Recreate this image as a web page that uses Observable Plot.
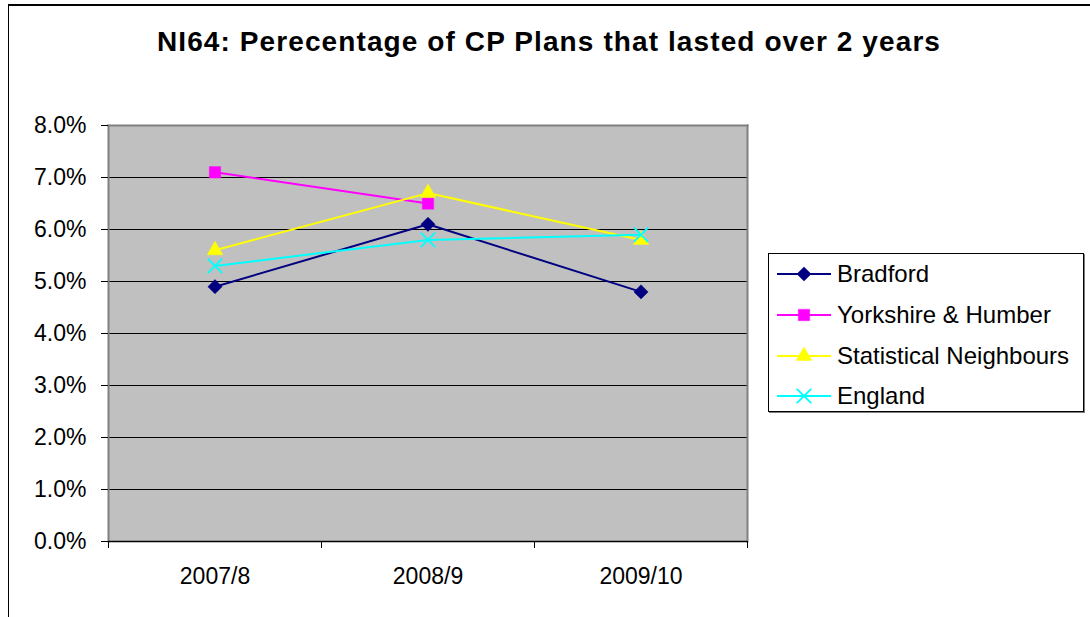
<!DOCTYPE html>
<html>
<head>
<meta charset="utf-8">
<script src="https://cdn.jsdelivr.net/npm/d3@7"></script>
<script src="https://cdn.jsdelivr.net/npm/@observablehq/plot@0.6"></script>
<style>
  html, body { margin: 0; padding: 0; background: #fff; overflow: hidden; }
  #wrap { position: relative; width: 1090px; height: 617px; font-family: Arial, "Liberation Sans", sans-serif; }
  #border { position: absolute; left: 8px; top: 4px; width: 1200px; height: 800px; border-top: 2px solid #000; border-left: 1.5px solid #000; }
  #chart { position: absolute; left: 0; top: 0; }
  #title { position: absolute; left: 8px; width: 1082px; top: 28px; line-height: 28px; text-align: center; font-size: 28px; letter-spacing: 1.1px; font-weight: bold; color: #000; }
  #legend { position: absolute; left: 768px; top: 253px; width: 316px; height: 159px; border: 1px solid #000; box-shadow: 1px 1px 0 #808080; background: #fff; box-sizing: border-box; }
  .item { position: absolute; left: 8px; height: 30px; display: flex; align-items: center; font-size: 24px; color: #000; white-space: nowrap; }
  .item svg { margin-right: 6px; }
</style>
</head>
<body>
<div id="wrap">
  <div id="border"></div>
  <div id="chart"></div>
  <div id="title">NI64: Perecentage of CP Plans that lasted over 2 years</div>
  <div id="legend"></div>
</div>
<script>
const categories = ["2007/8", "2008/9", "2009/10"];
const seriesNames = ["Bradford", "Yorkshire & Humber", "Statistical Neighbours", "England"];
const bradford = [4.9, 6.1, 4.8];
const yorkshire = [7.1, 6.5, null];
const statNeighbours = [5.6, 6.7, 5.8];
const england = [5.3, 5.8, 5.9];
const yTicks = [0, 1, 2, 3, 4, 5, 6, 7, 8];

const seriesValues = [bradford, yorkshire, statNeighbours, england];
const styles = {
  "Bradford": {color: "#000080", symbol: "diamond2", r: 6.4, fill: true},
  "Yorkshire & Humber": {color: "#FF00FF", symbol: "square", r: 6.4, fill: true},
  "Statistical Neighbours": {color: "#FFFF00", symbol: "triangle", r: 5.8, fill: true},
  "England": {color: "#00FFFF", symbol: "times", r: 6.6, fill: false}
};

const rows = [];
seriesNames.forEach((name, s) => {
  seriesValues[s].forEach((v, i) => {
    if (v != null) rows.push({series: name, i, value: v});
  });
});
const bounds = d3.range(categories.length + 1).map(k => k - 0.5);

const marks = [
  Plot.frame({fill: "#C0C0C0", stroke: "none"}),
  Plot.gridY(yTicks.filter(t => t > 0 && t < 8), {stroke: "#000", strokeOpacity: 1, strokeWidth: 1}),
  Plot.frame({stroke: "#808080", strokeWidth: 2, anchor: "top"}),
  Plot.frame({stroke: "#808080", strokeWidth: 2, anchor: "right"}),
  Plot.frame({stroke: "#808080", strokeWidth: 2, anchor: "left"}),
  Plot.ruleY([0], {stroke: "#000", strokeWidth: 1.5}),
  Plot.axisY({ticks: yTicks, tickSize: 7, tickPadding: 15, tickFormat: d => d.toFixed(1) + "%", fontSize: 23, stroke: "#000", color: "#000", label: null}),
  Plot.axisX({ticks: bounds, tickSize: 7, tickFormat: () => "", stroke: "#000", label: null}),
  Plot.axisX({ticks: d3.range(categories.length), tickSize: 0, tickPadding: 26, tickFormat: i => categories[i], fontSize: 23, color: "#000", label: null})
];
seriesNames.forEach(name => {
  const st = styles[name];
  const data = rows.filter(d => d.series === name);
  marks.push(Plot.line(data, {x: "i", y: "value", stroke: st.color, strokeWidth: 2}));
  marks.push(Plot.dot(data, {
    x: "i", y: "value", symbol: () => st.symbol, r: st.r,
    fill: st.fill ? st.color : "none", stroke: st.color, strokeWidth: st.fill ? 0.5 : 1.8
  }));
});

const chart = Plot.plot({
  width: 1090,
  height: 617,
  marginLeft: 108,
  marginRight: 343,
  marginTop: 125,
  marginBottom: 76,
  style: {fontFamily: "Arial, 'Liberation Sans', sans-serif", color: "#000", background: "transparent", overflow: "visible"},
  x: {type: "linear", domain: [-0.5, categories.length - 0.5], axis: null},
  y: {type: "linear", domain: [0, 8], axis: null},
  symbol: {type: "identity"},
  marks
});
document.getElementById("chart").appendChild(chart);

// Legend
const legend = document.getElementById("legend");
const itemTops = [5, 46, 87, 127];
seriesNames.forEach((name, k) => {
  const st = styles[name];
  const item = document.createElement("div");
  item.className = "item";
  item.style.top = itemTops[k] + "px";
  const sw = d3.create("svg").attr("width", 54).attr("height", 30);
  sw.append("line").attr("x1", 0).attr("x2", 54).attr("y1", 15).attr("y2", 15).attr("stroke", st.color).attr("stroke-width", 2);
  const symMap = {diamond2: d3.symbolDiamond2, square: d3.symbolSquare, triangle: d3.symbolTriangle, times: d3.symbolTimes};
  sw.append("path")
    .attr("transform", "translate(27,15)")
    .attr("d", d3.symbol(symMap[st.symbol], Math.PI * st.r * st.r)())
    .attr("fill", st.fill ? st.color : "none")
    .attr("stroke", st.color)
    .attr("stroke-width", st.fill ? 0.5 : 1.8);
  item.appendChild(sw.node());
  const t = document.createElement("span");
  t.textContent = name;
  item.appendChild(t);
  legend.appendChild(item);
});
</script>
</body>
</html>
